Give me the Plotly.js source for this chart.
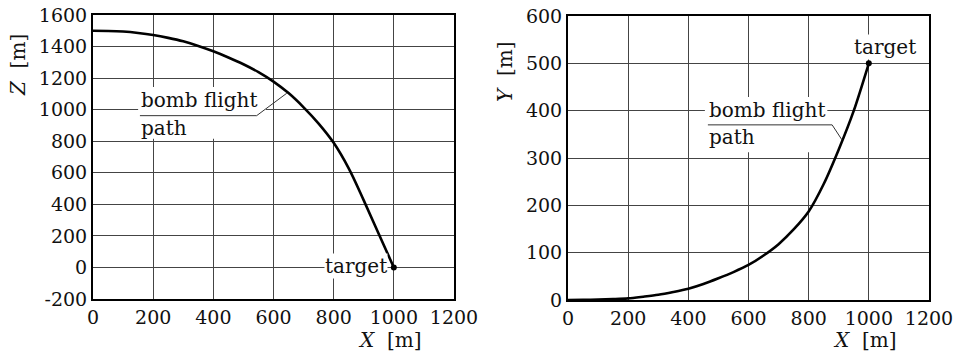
<!DOCTYPE html>
<html>
<head>
<meta charset="utf-8">
<script src="https://cdn.plot.ly/plotly-3.0.1.min.js"></script>
<style>html,body{margin:0;padding:0;background:#fff;}#plot{width:964px;height:355px;}</style>
</head>
<body>
<div id="plot"></div>
<script>
// Left panel: Z vs X
const xZ = [0, 50, 100, 150, 200, 250, 300, 350, 400, 450, 500, 550, 600, 650, 700, 750, 800, 850, 900, 950, 1000];
const zVals = [1500, 1499, 1495, 1486, 1473, 1455, 1433, 1404, 1370, 1331, 1288, 1238, 1178, 1105, 1015, 912, 790, 628, 425, 212, 0];
// Right panel: Y vs X
const xY = [0, 50, 100, 150, 200, 250, 300, 350, 400, 450, 500, 550, 600, 650, 700, 750, 800, 850, 900, 950, 1000];
const yVals = [0, 0.3, 1, 2, 3.5, 7, 11, 17, 24, 34, 46, 59, 74, 94, 118, 149, 187, 245, 318, 400, 500];
// Ticks
const xTickVals = [0, 200, 400, 600, 800, 1000, 1200];
const xTickText = ['0', '200', '400', '600', '800', '1000', '1200'];
const zTickVals = [-200, 0, 200, 400, 600, 800, 1000, 1200, 1400, 1600];
const zTickText = ['-200', '0', '200', '400', '600', '800', '1000', '1200', '1400', '1600'];
const yTickVals = [0, 100, 200, 300, 400, 500, 600];
const yTickText = ['0', '100', '200', '300', '400', '500', '600'];
// Target points
const targetZ = {x: [1000], y: [0]};
const targetY = {x: [1000], y: [500]};

const FONT = 'DejaVu Serif';
const fontBase = {family: FONT, size: 19, color: '#111'};
const fontAnn = {family: FONT, size: 20, color: '#111'};

const traces = [
  {x: xZ, y: zVals, xaxis: 'x', yaxis: 'y', mode: 'lines', line: {color: '#000', width: 2.6, shape: 'spline', smoothing: 1}, hoverinfo: 'none'},
  {x: targetZ.x, y: targetZ.y, xaxis: 'x', yaxis: 'y', mode: 'markers', marker: {color: '#000', size: 6}, hoverinfo: 'none'},
  {x: xY, y: yVals, xaxis: 'x2', yaxis: 'y2', mode: 'lines', line: {color: '#000', width: 2.6, shape: 'spline', smoothing: 0.8}, hoverinfo: 'none'},
  {x: targetY.x, y: targetY.y, xaxis: 'x2', yaxis: 'y2', mode: 'markers', marker: {color: '#000', size: 6}, hoverinfo: 'none'}
];

const axisCommon = {
  showline: true, mirror: true, linecolor: '#000', linewidth: 2,
  showgrid: true, gridcolor: '#444', gridwidth: 1,
  zeroline: false, ticks: '', tickfont: fontBase, fixedrange: true
};

const layout = {
  width: 964, height: 355,
  margin: {l: 0, r: 0, t: 0, b: 0},
  paper_bgcolor: '#fff', plot_bgcolor: '#fff',
  showlegend: false,
  font: fontBase,
  xaxis: Object.assign({}, axisCommon, {domain: [93/964, 454/964], range: [0, 1200], tickvals: xTickVals, ticktext: xTickText, anchor: 'y'}),
  yaxis: Object.assign({}, axisCommon, {domain: [1 - 299/355, 1 - 15/355], range: [-200, 1600], tickvals: zTickVals, ticktext: zTickText, anchor: 'x'}),
  xaxis2: Object.assign({}, axisCommon, {domain: [568/964, 929/964], range: [0, 1200], tickvals: xTickVals, ticktext: xTickText, anchor: 'y2'}),
  yaxis2: Object.assign({}, axisCommon, {domain: [1 - 300/355, 1 - 16/355], range: [0, 600], tickvals: yTickVals, ticktext: yTickText, anchor: 'x2'}),
  shapes: [
    // white boxes behind labels
    {type: 'rect', xref: 'x', yref: 'y', x0: 150, x1: 575, y0: 815, y1: 1143, fillcolor: '#fff', line: {width: 0}, layer: 'above'},
    {type: 'rect', xref: 'x2', yref: 'y2', x0: 455, x1: 862, y0: 312, y1: 429, fillcolor: '#fff', line: {width: 0}, layer: 'above'},
    // leader lines
    {type: 'path', xref: 'x', yref: 'y', path: 'M 156,962 L 544,962 L 644,1104', line: {color: '#333', width: 1}, layer: 'above'},
    {type: 'path', xref: 'x2', yref: 'y2', path: 'M 465,370 L 878,370 L 911,338', line: {color: '#333', width: 1}, layer: 'above'}
  ],
  annotations: [
    {xref: 'x', yref: 'y', x: 152, y: 1061, text: 'bomb flight', showarrow: false, xanchor: 'left', yanchor: 'middle', font: fontAnn},
    {xref: 'x', yref: 'y', x: 152, y: 884, text: 'path', showarrow: false, xanchor: 'left', yanchor: 'middle', font: fontAnn},
    {xref: 'x', yref: 'y', x: 980, y: 8, text: 'target', showarrow: false, xanchor: 'right', yanchor: 'middle', font: fontAnn, bgcolor: '#fff', borderpad: 0},
    {xref: 'x2', yref: 'y2', x: 461, y: 401, text: 'bomb flight', showarrow: false, xanchor: 'left', yanchor: 'middle', font: fontAnn},
    {xref: 'x2', yref: 'y2', x: 461, y: 344, text: 'path', showarrow: false, xanchor: 'left', yanchor: 'middle', font: fontAnn},
    {xref: 'x2', yref: 'y2', x: 1054, y: 534, text: 'target', showarrow: false, xanchor: 'center', yanchor: 'middle', font: fontAnn, bgcolor: '#fff', borderpad: 0},
    // axis titles
    {xref: 'paper', yref: 'paper', x: 18/964, y: 1 - 65/355, text: '<i>Z</i>  [m]', textangle: -90, showarrow: false, xanchor: 'center', yanchor: 'middle', font: fontAnn},
    {xref: 'paper', yref: 'paper', x: 390/964, y: 1 - 340/355, text: '<i>X</i>  [m]', showarrow: false, xanchor: 'center', yanchor: 'middle', font: fontAnn},
    {xref: 'paper', yref: 'paper', x: 505/964, y: 1 - 72/355, text: '<i>Y</i>  [m]', textangle: -90, showarrow: false, xanchor: 'center', yanchor: 'middle', font: fontAnn},
    {xref: 'paper', yref: 'paper', x: 865/964, y: 1 - 340/355, text: '<i>X</i>  [m]', showarrow: false, xanchor: 'center', yanchor: 'middle', font: fontAnn}
  ]
};

Plotly.newPlot('plot', traces, layout, {displayModeBar: false, staticPlot: true});
</script>
</body>
</html>
